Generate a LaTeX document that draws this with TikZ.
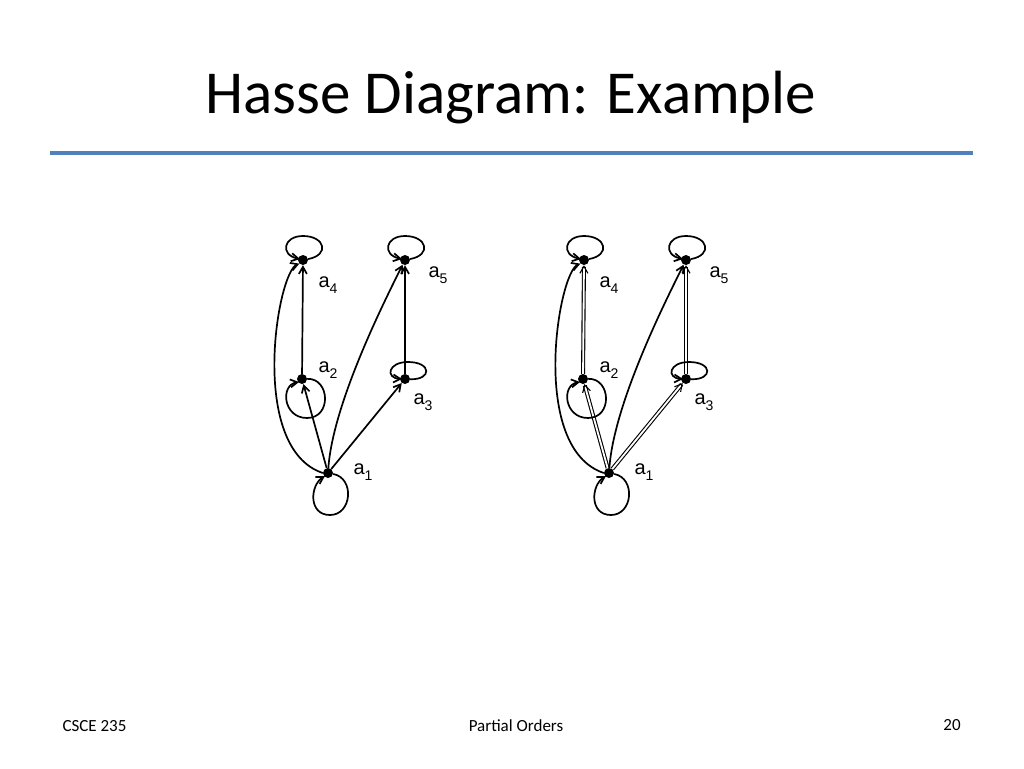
\documentclass[tikz,border=0pt]{standalone}
\usepackage{fontspec}
\setmainfont{Carlito}
\newfontfamily\arial{Liberation Sans}
\usetikzlibrary{arrows.meta}
\newcommand{\subx}[1]{\raisebox{-0.3em}{\fontsize{14}{16}\selectfont #1}}
\begin{document}
\begin{tikzpicture}[x=1pt,y=-1pt,
  dot/.style={circle,fill=black,inner sep=0pt,minimum size=10pt},
  lab/.style={font=\arial\fontsize{20}{22}\selectfont},
  arr/.style={-{Straight Barb[length=7pt,width=8pt]},line width=1.7pt},
  dbl/.style={arr,double,double distance=1.8pt,line width=1.1pt}]
\useasboundingbox (0,0) rectangle (1024,768);
\node[font=\fontsize{61}{66}\selectfont] (title) at (511,98) {Hasse Diagram: Example};
\draw[line width=4pt,color={rgb,255:red,79;green,129;blue,189}] (50,153) -- (973,153);
\node[font=\fontsize{17}{19}\selectfont,anchor=west] (f1) at (59,726) {CSCE 235};
\node[font=\fontsize{17}{19}\selectfont] (f2) at (516,726) {Partial Orders};
\node[font=\fontsize{17}{19}\selectfont] (f3) at (952,725) {20};
\foreach \dx/\p/\s in {0/L/arr,281/R/dbl}{
  \begin{scope}[xshift=\dx]
  \node[dot] (\p4) at (303,260) {};
  \node[dot] (\p5) at (405,260) {};
  \node[dot] (\p2) at (302,379) {};
  \node[dot] (\p3) at (405,379) {};
  \node[dot] (\p1) at (328,473) {};
  \node[lab] (\p l4) at (328,285) {a\subx{4}};
  \node[lab] (\p l5) at (438,275) {a\subx{5}};
  \node[lab] (\p l2) at (328,370) {a\subx{2}};
  \node[lab] (\p l3) at (423,402) {a\subx{3}};
  \node[lab] (\p l1) at (363,472) {a\subx{1}};
  \draw[\s] (\p2) -- (\p4);
  \draw[\s] (\p3) -- (\p5);
  \draw[\s] (\p1) -- (\p2);
  \draw[\s] (\p1) -- (\p3);
  \draw[arr] (\p1.west) .. controls +(-75,-25) and +(-22,8) .. (\p4.south west);
  \draw[arr] (\p1) .. controls +(5,-70) and +(-20,40) .. (\p5);
  \draw[arr] (\p4) .. controls (330,255) and (325,236) .. (303,236) .. controls (283,236) and (280,255) .. (300,259);
  \draw[arr] (\p5) .. controls (432,255) and (427,236) .. (405,236) .. controls (385,236) and (382,255) .. (402,259);
  \draw[arr] (\p3) .. controls (432,380) and (432,362) .. (408,362) .. controls (388,362) and (385,378) .. (402,379);
  \draw[arr] (\p2) .. controls (330,378) and (332,418) .. (307,418) .. controls (283,418) and (280,385) .. (299,382);
  \draw[arr] (\p1) .. controls (355,478) and (352,515) .. (330,515) .. controls (308,515) and (310,485) .. (325,476);
  \end{scope}}
\end{tikzpicture}
\end{document}
